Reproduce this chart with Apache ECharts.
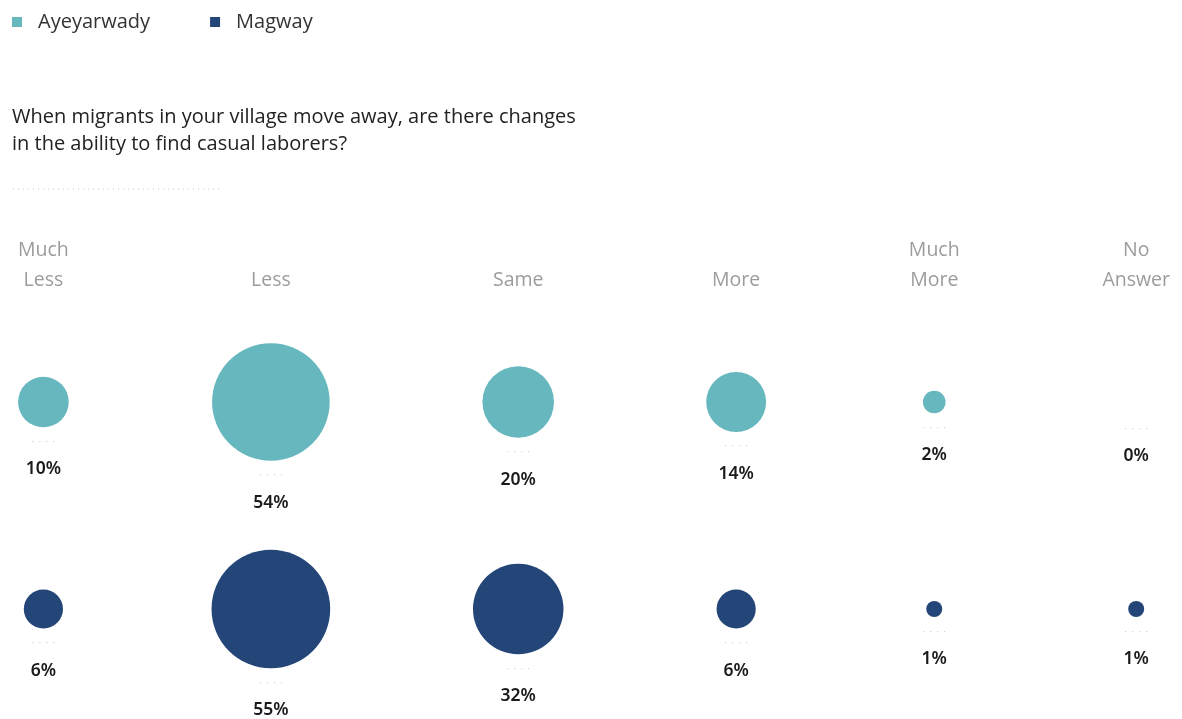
<!DOCTYPE html>
<html>
<head>
<meta charset="utf-8">
<script src="https://cdn.jsdelivr.net/npm/echarts@6/dist/echarts.min.js"></script>
<style>
  html, body { margin: 0; padding: 0; background: #fff; }
  #chart { width: 1182px; height: 719px; }
</style>
</head>
<body>
<div id="chart"></div>
<script>
// Survey answers, share of respondents (%)
const categories = ['Much\nLess', 'Less', 'Same', 'More', 'Much\nMore', 'No\nAnswer'];
const regions = ['Ayeyarwady', 'Magway'];
const ayeyarwady = [10, 54, 20, 14, 2, 0];
const magway = [6, 55, 32, 6, 1, 1];

const question = 'When migrants in your village move away, are there changes\nin the ability to find casual laborers?';

const COLORS = ['#67b7bf', '#234577'];
const FONT = 'Open Sans';
const HEADER_SIZE = 19.5;
const W = 1182, H = 719;

// circle area proportional to the percentage
const sizeOf = v => 16 * Math.sqrt(v);

// Column layout: each column is as wide as its widest circle or header line,
// columns spread evenly between the left and right margins.
const ctx = document.createElement('canvas').getContext('2d');
ctx.font = HEADER_SIZE + 'px "' + FONT + '"';
const colWidths = categories.map((c, i) => {
  const textW = Math.max(...c.split('\n').map(s => ctx.measureText(s).width));
  return Math.max(textW, sizeOf(ayeyarwady[i]), sizeOf(magway[i]));
});
const marginL = 18, marginR = 12;
const gap = (W - marginL - marginR - colWidths.reduce((a, b) => a + b, 0)) / (categories.length - 1);
const colCenters = [];
let acc = marginL;
colWidths.forEach(w => { colCenters.push(acc + w / 2); acc += w + gap; });

function seriesFor(name, values, color) {
  return {
    name: name,
    type: 'scatter',
    data: values.map((v, i) => ({
      value: [colCenters[i], name, v],
      label: { distance: v === 0 ? 19 : 7 }
    })),
    symbol: 'circle',
    symbolSize: d => sizeOf(d[2]),
    itemStyle: { color: color, opacity: 1 },
    label: {
      show: true,
      position: 'bottom',
      formatter: p => '{dots|·  ·  ·  ·}\n{val|' + p.value[2] + '%}',
      rich: {
        dots: { fontSize: 9, color: '#bdbdbd', lineHeight: 16, fontFamily: FONT },
        val: { fontSize: 17.5, color: '#1a1a1a', lineHeight: 38, fontWeight: 600, fontFamily: 'Noto Sans' }
      }
    },
    emphasis: { disabled: true },
    animation: false
  };
}

const chart = echarts.init(document.getElementById('chart'), null, { renderer: 'canvas' });
chart.setOption({
  backgroundColor: '#fff',
  animation: false,
  title: {
    text: question,
    left: 12,
    top: 104,
    padding: 0,
    textStyle: { fontFamily: FONT, fontSize: 20, fontWeight: 'normal', color: '#222', lineHeight: 27 }
  },
  legend: {
    data: regions,
    left: 7,
    top: 7,
    icon: 'rect',
    itemWidth: 10,
    itemHeight: 10,
    itemGap: 60,
    selectedMode: false,
    textStyle: { fontFamily: FONT, fontSize: 20, color: '#333', padding: [0, 0, 0, 11] }
  },
  grid: { left: 0, right: 0, top: 298.5, bottom: 6.5 },
  xAxis: { type: 'value', min: 0, max: W, show: false },
  yAxis: { type: 'category', data: regions, inverse: true, show: false },
  series: [
    seriesFor(regions[0], ayeyarwady, COLORS[0]),
    seriesFor(regions[1], magway, COLORS[1])
  ],
  graphic: [
    {
      type: 'line',
      shape: { x1: 13, y1: 189, x2: 221, y2: 189 },
      style: { stroke: '#c8c8c8', lineWidth: 1, lineDash: [1, 4] },
      silent: true
    }
  ].concat(categories.map((c, i) => ({
    type: 'text',
    x: colCenters[i],
    y: 295,
    style: {
      text: c,
      align: 'center',
      verticalAlign: 'bottom',
      fontFamily: FONT,
      fontSize: HEADER_SIZE,
      lineHeight: 30,
      fill: '#9c9c9c'
    },
    silent: true
  })))
});
</script>
</body>
</html>
